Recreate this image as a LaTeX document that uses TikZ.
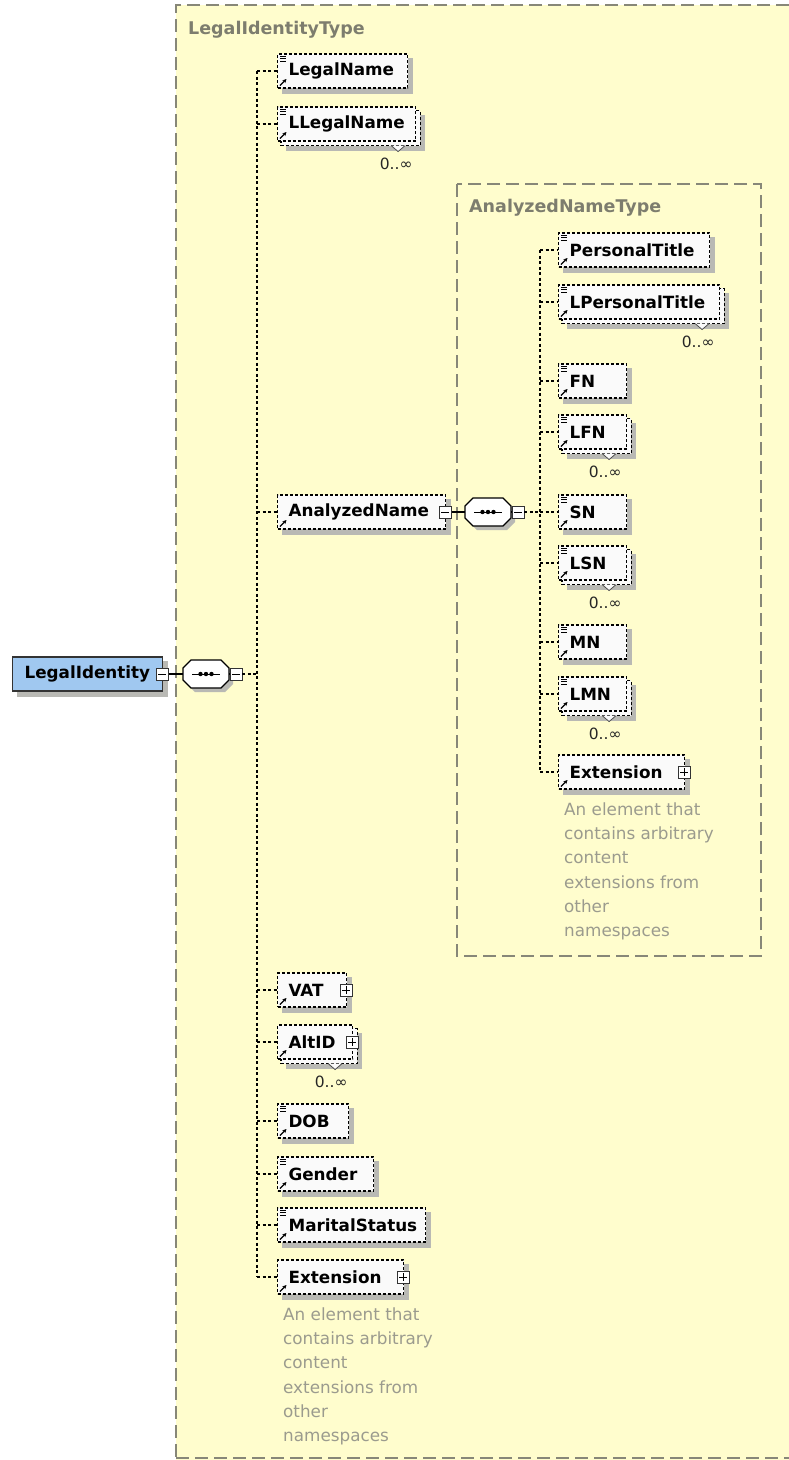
\documentclass[tikz,border=0pt]{standalone}
\usepackage{fontspec}
\setmainfont{DejaVu Sans}
\usetikzlibrary{calc,arrows.meta}
\definecolor{bgyellow}{RGB}{255,253,205}
\definecolor{boxgray}{RGB}{135,135,120}
\definecolor{shadowgray}{RGB}{185,185,180}
\definecolor{elfill}{RGB}{250,250,250}
\definecolor{rootblue}{RGB}{160,200,240}
\definecolor{desc}{RGB}{155,155,142}
\definecolor{titlegray}{RGB}{125,125,110}
\pgfdeclarelayer{bg}\pgfdeclarelayer{mid}\pgfsetlayers{bg,mid,main}
\tikzset{
 elem/.style={draw=black, line width=1.1pt, dash pattern=on 3pt off 2pt, fill=elfill, anchor=west,
   minimum height=34pt, inner xsep=11pt, inner ysep=0pt, align=left,
   font=\fontsize{16.8}{19}\selectfont\bfseries, text=black},
 rootel/.style={draw=black!80, line width=1.1pt, fill=rootblue, anchor=west,
   minimum height=34pt, inner xsep=12pt, inner ysep=0pt, align=left,
   font=\fontsize{16.8}{19}\selectfont\bfseries, text=black},
 conn/.style={line width=1.1pt, dash pattern=on 3pt off 2.5pt, black},
 solidconn/.style={line width=1.1pt, black},
 pm/.style={draw=black!80, line width=0.9pt, fill=white, minimum size=12pt, inner sep=0pt},
 mult/.style={font=\fontsize{15.5}{18}\selectfont, text=black!85, inner sep=0pt},
 descr/.style={font=\fontsize{16.8}{24.2}\selectfont, text=desc, align=left, anchor=north west, inner sep=0pt},
 typetitle/.style={font=\fontsize{17.5}{20}\selectfont\bfseries, text=titlegray, anchor=west, inner sep=0pt},
 typebox/.style={draw=boxgray, line width=1.2pt, dash pattern=on 13pt off 6pt},
 octo/.style={draw=black, line width=1.1pt, fill=white},
 seqbox/.style={minimum width=46pt, minimum height=28pt, inner sep=0pt},
}
\newcommand\minusbox[2]{\node[pm] (#1) at #2 {};
  \draw[line width=0.9pt] ($(#1.center)+(-4,0)$) -- ($(#1.center)+(4,0)$);}
\newcommand\plusbox[2]{\node[pm] (#1) at #2 {};
  \draw[line width=0.9pt] ($(#1.center)+(-4,0)$) -- ($(#1.center)+(4,0)$)
    ($(#1.center)+(0,-4)$) -- ($(#1.center)+(0,4)$);}
\newcommand\seqnode[2]{\node[seqbox] (#1) at #2 {};
  \begin{pgfonlayer}{mid}
  \fill[shadowgray, shift={($(#1.center)+(4,4)$)}] (-23,-6) -- (-15,-14) -- (15,-14) -- (23,-6) -- (23,6) -- (15,14) -- (-15,14) -- (-23,6) -- cycle;
  \end{pgfonlayer}
  \draw[octo, shift={(#1.center)}] (-23,-6) -- (-15,-14) -- (15,-14) -- (23,-6) -- (23,6) -- (15,14) -- (-15,14) -- (-23,6) -- cycle;
  \draw[line width=0.9pt] ($(#1.center)+(-14,0)$) -- ($(#1.center)+(14,0)$);
  \foreach \d in {-5.5,0,5.5} \fill ($(#1.center)+(\d,0)$) circle (2.2);}
\newcommand\eqicon[1]{\draw[line width=0.6pt] ($(#1.north west)+(3,3)$) -- ++(6,0)
  ($(#1.north west)+(3,5.2)$) -- ++(6,0) ($(#1.north west)+(3,7.4)$) -- ++(6,0);}
\newcommand\arricon[1]{\draw[line width=1.2pt,-{Stealth[length=4pt,width=4pt]}]
  ($(#1.south west)+(3,-3)$) -- ($(#1.south west)+(9.5,-9.5)$);}
\newcommand\shadowof[1]{\begin{pgfonlayer}{mid}
  \fill[shadowgray] ($(#1.north west)+(5,5)$) rectangle ($(#1.south east)+(5,5)$);
  \end{pgfonlayer}}
\newcommand\stackof[1]{\begin{pgfonlayer}{mid}
  \fill[shadowgray] ($(#1.north west)+(9,9)$) rectangle ($(#1.south east)+(9,9)$);
  \filldraw[fill=elfill, draw=black, line width=1.1pt, dash pattern=on 3pt off 2pt]
    ($(#1.north west)+(4,4)$) rectangle ($(#1.south east)+(4,4)$);
  \end{pgfonlayer}
  \filldraw[fill=elfill, draw=black!70, line width=0.8pt] ($(#1.south east)+(-25,4)$) -- ($(#1.south east)+(-18,10)$) -- ($(#1.south east)+(-11,4)$);}
\begin{document}
\begin{tikzpicture}[x=1pt,y=-1pt]
\useasboundingbox (0,0) rectangle (789,1460);
% outer type box
\begin{pgfonlayer}{bg}
\fill[bgyellow] (176,5) rectangle (789,1460);
\end{pgfonlayer}
\draw[typebox] (789,5) -- (176,5) -- (176,1460);
\draw[typebox] (176,1458) -- (789,1458);
\node[typetitle] (TitleA) at (188,30) {LegalIdentityType};
% inner type box
\draw[typebox] (457,184) rectangle (761,956);
\node[typetitle] (TitleB) at (469,208) {AnalyzedNameType};

\coordinate (trunkA) at (257,0);
\coordinate (trunkB) at (540,0);

% root
\node[rootel, text width=126pt] (LegalIdentity) at (12,674) {LegalIdentity};
\shadowof{LegalIdentity}
\minusbox{mA}{($(LegalIdentity.east)+(-1,0)$)}
\seqnode{seqA}{(206,674)}
\minusbox{mB}{(236,674)}

% outer children
\node[elem, text width=108pt] (LegalName) at (277,71) {LegalName};
\shadowof{LegalName}\eqicon{LegalName}\arricon{LegalName}
\node[elem, text width=116pt] (LLegalName) at (277,124) {LLegalName};
\stackof{LLegalName}\eqicon{LLegalName}\arricon{LLegalName}
\node[elem, text width=146pt] (AnalyzedName) at (277,512) {AnalyzedName};
\shadowof{AnalyzedName}\arricon{AnalyzedName}
\minusbox{mC}{($(AnalyzedName.east)+(-1,0)$)}
\node[elem, text width=47pt] (VAT) at (277,990) {VAT};
\shadowof{VAT}\arricon{VAT}
\plusbox{pVAT}{($(VAT.east)+(-1,0)$)}
\node[elem, text width=53pt] (AltID) at (277,1042) {AltID};
\stackof{AltID}\arricon{AltID}
\plusbox{pAltID}{($(AltID.east)+(-1,0)$)}
\node[elem, text width=49pt] (DOB) at (277,1121) {DOB};
\shadowof{DOB}\eqicon{DOB}\arricon{DOB}
\node[elem, text width=74pt] (Gender) at (277,1174) {Gender};
\shadowof{Gender}\eqicon{Gender}\arricon{Gender}
\node[elem, text width=126pt] (MaritalStatus) at (277,1225) {MaritalStatus};
\shadowof{MaritalStatus}\eqicon{MaritalStatus}\arricon{MaritalStatus}
\node[elem, text width=104pt] (ExtA) at (277,1277) {Extension};
\shadowof{ExtA}\arricon{ExtA}
\plusbox{pExtA}{($(ExtA.east)+(-1,0)$)}
\node[descr] (DescA) at ($(ExtA.south west)+(6,13)$) {An element that\\contains arbitrary\\content\\extensions from\\other\\namespaces};

% multiplicities outer
\node[mult] (mulLLegalName) at ($(LLegalName.south east)+(-20,22)$) {0..∞};
\node[mult] (mulAltID) at ($(AltID.south east)+(-22,22)$) {0..∞};

% outer connectors
\draw[solidconn] (mA) -- (seqA);
\draw[solidconn] (seqA) -- (mB);
\draw[conn] (mB) -- (mB -| trunkA);
\draw[conn] (LegalName.west -| trunkA) -- (ExtA.west -| trunkA);
\foreach \n in {LegalName,LLegalName,AnalyzedName,VAT,AltID,DOB,Gender,MaritalStatus,ExtA}
  \draw[conn] (\n.west -| trunkA) -- (\n.west);

% inner sequence
\seqnode{seqB}{(488,512)}
\minusbox{mD}{(518,512)}
\draw[solidconn] (mC) -- (seqB);
\draw[solidconn] (seqB) -- (mD);
\draw[conn] (mD) -- (mD -| trunkB);

% inner children
\node[elem, text width=129pt] (PersonalTitle) at (558,250) {PersonalTitle};
\shadowof{PersonalTitle}\eqicon{PersonalTitle}\arricon{PersonalTitle}
\node[elem, text width=139pt] (LPersonalTitle) at (558,302) {LPersonalTitle};
\stackof{LPersonalTitle}\eqicon{LPersonalTitle}\arricon{LPersonalTitle}
\node[elem, text width=46pt] (FN) at (558,381) {FN};
\shadowof{FN}\eqicon{FN}\arricon{FN}
\node[elem, text width=46pt] (LFN) at (558,432) {LFN};
\stackof{LFN}\eqicon{LFN}\arricon{LFN}
\node[elem, text width=46pt] (SN) at (558,512) {SN};
\shadowof{SN}\eqicon{SN}\arricon{SN}
\node[elem, text width=46pt] (LSN) at (558,563) {LSN};
\stackof{LSN}\eqicon{LSN}\arricon{LSN}
\node[elem, text width=46pt] (MN) at (558,642) {MN};
\shadowof{MN}\eqicon{MN}\arricon{MN}
\node[elem, text width=46pt] (LMN) at (558,694) {LMN};
\stackof{LMN}\eqicon{LMN}\arricon{LMN}
\node[elem, text width=104pt] (ExtB) at (558,772) {Extension};
\shadowof{ExtB}\arricon{ExtB}
\plusbox{pExtB}{($(ExtB.east)+(-1,0)$)}
\node[descr] (DescB) at ($(ExtB.south west)+(6,13)$) {An element that\\contains arbitrary\\content\\extensions from\\other\\namespaces};

\node[mult] (mulLPersonalTitle) at ($(LPersonalTitle.south east)+(-22,22)$) {0..∞};
\node[mult] (mulLFN) at ($(LFN.south east)+(-22,22)$) {0..∞};
\node[mult] (mulLSN) at ($(LSN.south east)+(-22,22)$) {0..∞};
\node[mult] (mulLMN) at ($(LMN.south east)+(-22,22)$) {0..∞};

\draw[conn] (PersonalTitle.west -| trunkB) -- (ExtB.west -| trunkB);
\foreach \n in {PersonalTitle,LPersonalTitle,FN,LFN,SN,LSN,MN,LMN,ExtB}
  \draw[conn] (\n.west -| trunkB) -- (\n.west);
\end{tikzpicture}
\end{document}
